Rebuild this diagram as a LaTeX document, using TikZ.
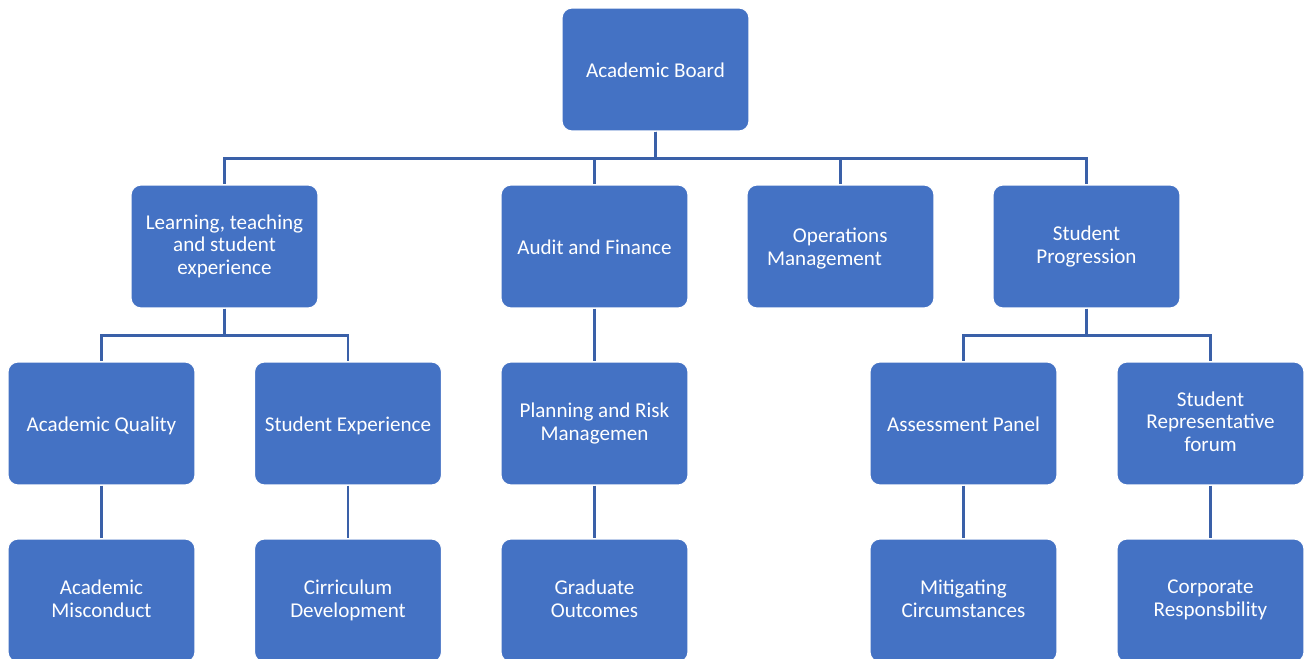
\documentclass[tikz,border=0pt]{standalone}
\usepackage{fontspec}
\setmainfont{Carlito}
\usepackage{tikz}
\usetikzlibrary{arrows.meta}
\definecolor{boxblue}{HTML}{4472C4}
\definecolor{linkblue}{HTML}{3A60A8}
\newcommand\unitstrut{\rule[-2.2pt]{0pt}{13pt}}
\tikzset{
  unit/.style={rectangle,rounded corners=0.2cm,fill=boxblue,draw=white,line width=0.6pt,
    minimum width=3.74cm,minimum height=2.46cm,inner sep=0pt,align=center,
    text=white,font=\fontsize{12}{13}\selectfont,
    execute at begin node=\unitstrut,execute at end node=\unitstrut},
  link/.style={draw=linkblue,line width=1.5pt}
}

\begin{document}
\begin{tikzpicture}[x=0.02cm,y=-0.02cm]
        \useasboundingbox (0,0) rectangle (1306,659);
        \clip (0,0) rectangle (1306,659);
        % top
        \node[unit] (board) at (655.5,69.5) {Academic Board};
        % committees
        \node[unit] (ltse) at (224.5,246.5) {Learning, teaching\\and student\\experience};
        \node[unit] (audit) at (594.5,246.5) {Audit and Finance};
        \node[unit,text width=83.6pt,align=left] (ops) at (840.5,246.5) {\hspace*{1.23em}Operations\\Management};
        \node[unit] (prog) at (1086.5,246.5) {Student\\Progression};
        % sub-committees
        \node[unit] (quality) at (101.5,423.5) {Academic Quality};
        \node[unit] (experience) at (348,423.5) {Student Experience};
        \node[unit] (risk) at (594.5,423.5) {Planning and Risk\\Managemen};
        \node[unit] (panel) at (963.5,423.5) {Assessment Panel};
        \node[unit] (forum) at (1210.5,423.5) {Student\\Representative\\forum};
        % working groups
        \node[unit] (misconduct) at (101.5,600.5) {Academic\\Misconduct};
        \node[unit] (curriculum) at (348,600.5) {Cirriculum\\Development};
        \node[unit] (outcomes) at (594.5,600.5) {Graduate\\Outcomes};
        \node[unit] (mitigating) at (963.5,600.5) {Mitigating\\Circumstances};
        \node[unit] (responsibility) at (1210.5,600.5) {Corporate\\Responsbility};
        % links
        \foreach \c in {ltse,audit,ops,prog}
          \draw[link] (board.south) -- ++(0,27) -| (\c.north);
        \foreach \c in {quality,experience}
          \draw[link] (ltse.south) -- ++(0,27) -| (\c.north);
        \foreach \c in {panel,forum}
          \draw[link] (prog.south) -- ++(0,27) -| (\c.north);
        \draw[link] (audit.south) -- (risk.north);
        \draw[link] (risk.south) -- (outcomes.north);
        \draw[link] (quality.south) -- (misconduct.north);
        \draw[link] (experience.south) -- (curriculum.north);
        \draw[link] (panel.south) -- (mitigating.north);
        \draw[link] (forum.south) -- (responsibility.north);
\end{tikzpicture}
\end{document}
